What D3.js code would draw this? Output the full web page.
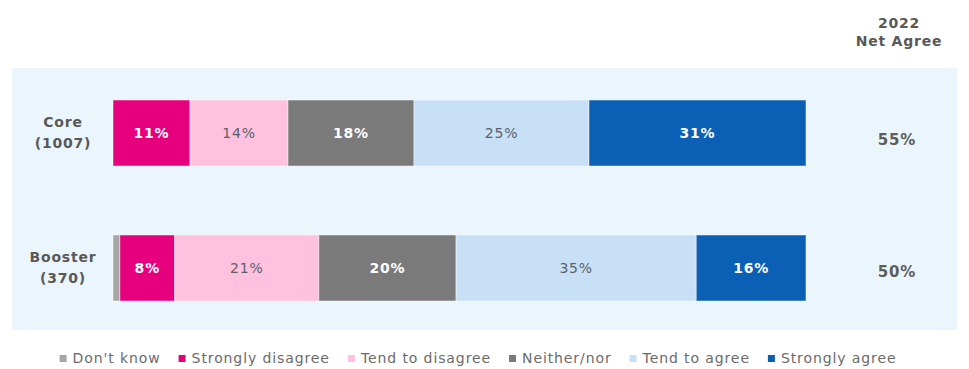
<!DOCTYPE html>
<html><head><meta charset="utf-8">
<script src="https://cdn.jsdelivr.net/npm/d3@7"></script>
<style>
html,body{margin:0;padding:0;background:#fff;}
svg{display:block;font-family:"DejaVu Sans",Verdana,sans-serif;}
</style></head>
<body>
<svg id="chart" width="969" height="369"></svg>
<script>
const groups = ["Core", "Booster"];
const groupSizes = ["(1007)", "(370)"];
const seriesNames = ["Don't know", "Strongly disagree", "Tend to disagree", "Neither/nor", "Tend to agree", "Strongly agree"];
const dontKnow = [0, 1];
const stronglyDisagree = [11, 8];
const tendToDisagree = [14, 21];
const neitherNor = [18, 20];
const tendToAgree = [25, 35];
const stronglyAgree = [31, 16];
const netAgree = [55, 50];
const netAgreeTitle = ["2022", "Net Agree"];

const colors = ["#a6a6a6", "#e6007e", "#ffc1de", "#7a7a7a", "#c8e0f6", "#0b5fb5"];
const labelDark = [false, true, false, true, false, true];

const seriesValues = [dontKnow, stronglyDisagree, tendToDisagree, neitherNor, tendToAgree, stronglyAgree];
const table = groups.map((g, i) => {
  const row = {group: g};
  seriesNames.forEach((s, j) => row[s] = seriesValues[j][i]);
  return row;
});

const svg = d3.select("#chart");

// background panel
svg.append("rect").attr("x", 12).attr("y", 68).attr("width", 945).attr("height", 262)
  .attr("fill", "#ebf5fc");

const x = d3.scaleLinear().domain([0, 1]).range([113, 806]);
const y = d3.scaleBand().domain(groups).range([100, 301]).paddingInner(0.511).paddingOuter(0);

const stack = d3.stack().keys(seriesNames).offset(d3.stackOffsetExpand);
const stacked = stack(table);

const layers = svg.append("g").selectAll("g").data(stacked).join("g")
  .attr("fill", (d, i) => colors[i]);

layers.selectAll("rect").data(d => d).join("rect")
  .attr("x", d => x(d[0]))
  .attr("y", d => y(d.data.group))
  .attr("width", d => Math.max(0, x(d[1]) - x(d[0])))
  .attr("height", y.bandwidth())
  .attr("stroke", "#ffffff").attr("stroke-opacity", 0.6).attr("stroke-width", 0.8);

// segment labels
stacked.forEach((layer, i) => {
  layer.forEach(d => {
    const v = d.data[layer.key];
    if (v < 3) return;
    svg.append("text")
      .attr("x", (x(d[0]) + x(d[1])) / 2)
      .attr("y", y(d.data.group) + y.bandwidth() / 2 + 5)
      .attr("text-anchor", "middle")
      .attr("font-size", 14)
      .attr("letter-spacing", 0.8)
      .attr("font-weight", labelDark[i] ? "bold" : "normal")
      .attr("fill", labelDark[i] ? "#ffffff" : "#5b5f6b")
      .text(v + "%");
  });
});

// row labels
groups.forEach((g, i) => {
  const cy = y(g) + y.bandwidth() / 2;
  const t = svg.append("text").attr("text-anchor", "middle")
    .attr("font-size", 14).attr("font-weight", "bold").attr("letter-spacing", 0.8)
    .attr("fill", "#595959");
  t.append("tspan").attr("x", 63).attr("y", cy - 6).text(g);
  t.append("tspan").attr("x", 63).attr("y", cy + 15).text(groupSizes[i]);
});

// net agree column
const nt = svg.append("text").attr("text-anchor", "middle")
  .attr("font-size", 14).attr("font-weight", "bold").attr("letter-spacing", 0.8)
  .attr("fill", "#595959");
nt.append("tspan").attr("x", 899).attr("y", 28).text(netAgreeTitle[0]);
nt.append("tspan").attr("x", 899).attr("y", 46).text(netAgreeTitle[1]);

const netOffset = [12, 9];
groups.forEach((g, i) => {
  svg.append("text").attr("x", 897).attr("y", y(g) + y.bandwidth() / 2 + netOffset[i])
    .attr("text-anchor", "middle").attr("font-size", 15).attr("font-weight", "bold")
    .attr("letter-spacing", 0.8).attr("fill", "#5d5d5d")
    .text(netAgree[i] + "%");
});

// legend
const legend = svg.append("g");
let lx = 0;
seriesNames.forEach((s, i) => {
  const item = legend.append("g").attr("transform", `translate(${lx},0)`);
  item.append("rect").attr("x", 0).attr("y", -8).attr("width", 7).attr("height", 7)
    .attr("fill", colors[i]);
  const t = item.append("text").attr("x", 13).attr("y", 0)
    .attr("font-size", 14).attr("letter-spacing", 0.9).attr("fill", "#6b6b6b").text(s);
  lx += 13 + t.node().getComputedTextLength() + 18;
});
const legendWidth = lx - 18;
legend.attr("transform", `translate(${478 - legendWidth / 2},363)`);
</script>
</body></html>
